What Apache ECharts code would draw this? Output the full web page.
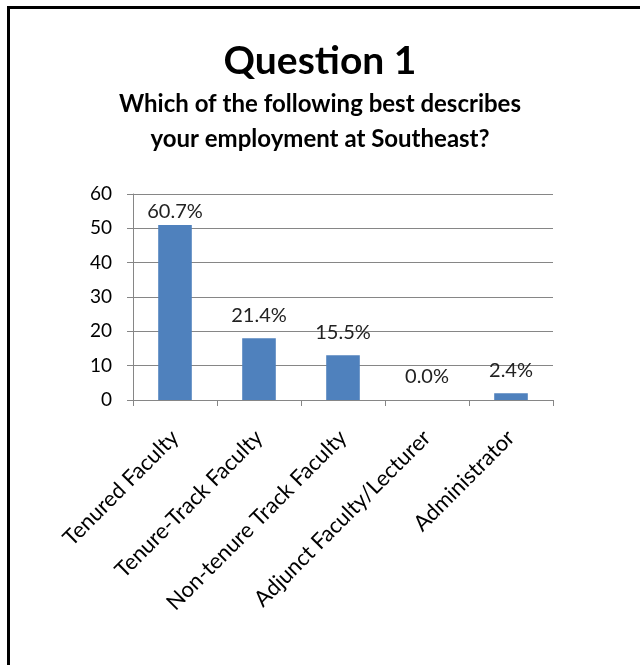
<!DOCTYPE html>
<html>
<head>
<meta charset="utf-8">
<script src="https://cdn.jsdelivr.net/npm/echarts@6/dist/echarts.min.js"></script>
<style>
  html, body { margin: 0; padding: 0; background: #ffffff; }
  #chart { width: 640px; height: 665px; }
</style>
</head>
<body>
<div id="chart"></div>
<script>
// Survey responses: "Which of the following best describes your employment at Southeast?"
const categories = [
  'Tenured Faculty',
  'Tenure-Track Faculty',
  'Non-tenure Track Faculty',
  'Adjunct Faculty/Lecturer',
  'Administrator'
];
const responseCounts = [51, 18, 13, 0, 2];
const yTicks = [0, 10, 20, 30, 40, 50, 60];
const titleLines = [
  'Question 1',
  'Which of the following best describes',
  'your employment at Southeast?'
];

const totalResponses = responseCounts.reduce((a, b) => a + b, 0);
const FONT = 'Lato, "Open Sans", sans-serif';

const chart = echarts.init(document.getElementById('chart'), null, { renderer: 'canvas' });

const seriesData = responseCounts.map((v, i) => ({
  value: v,
  // the tallest bar's label sits tight against the top of the plot
  label: { distance: i === 0 ? 3 : 13 }
}));

function headingText(text, y, size) {
  return {
    type: 'text',
    x: 320,
    y: y,
    silent: true,
    style: {
      text: text,
      align: 'center',
      verticalAlign: 'middle',
      fontFamily: FONT,
      fontWeight: 'bold',
      fontSize: size,
      fill: '#000000'
    }
  };
}

chart.setOption({
  backgroundColor: '#ffffff',
  animation: false,
  graphic: [
    {
      type: 'rect',
      shape: { x: 8.5, y: 7.5, width: 700, height: 700 },
      style: { fill: 'none', stroke: '#000000', lineWidth: 3 },
      silent: true,
      z: 100
    },
    headingText(titleLines[0], 61, 39),
    headingText(titleLines[1], 104, 24),
    headingText(titleLines[2], 139, 24)
  ],
  grid: { left: 133, right: 87, top: 194, bottom: 265, containLabel: false },
  xAxis: {
    type: 'category',
    data: categories,
    boundaryGap: true,
    axisLine: { show: true, lineStyle: { color: '#868686', width: 1 } },
    axisTick: { show: true, length: 6, lineStyle: { color: '#868686' } },
    axisLabel: {
      rotate: 45,
      interval: 0,
      margin: 34,
      fontFamily: FONT,
      fontSize: 22,
      color: '#000000'
    }
  },
  yAxis: {
    type: 'value',
    min: yTicks[0],
    max: yTicks[yTicks.length - 1],
    interval: yTicks[1] - yTicks[0],
    axisLine: { show: true, lineStyle: { color: '#868686', width: 1 } },
    axisTick: { show: true, length: 6, lineStyle: { color: '#868686' } },
    splitLine: { show: true, lineStyle: { color: '#868686', width: 1 } },
    axisLabel: {
      margin: 21,
      fontFamily: FONT,
      fontSize: 19,
      color: '#000000'
    }
  },
  series: [{
    type: 'bar',
    data: seriesData,
    barWidth: '40%',
    itemStyle: { color: '#4F81BD' },
    label: {
      show: true,
      position: 'top',
      fontFamily: FONT,
      fontSize: 20,
      color: '#222222',
      formatter: p => (p.value / totalResponses * 100).toFixed(1) + '%'
    }
  }]
});
</script>
</body>
</html>
